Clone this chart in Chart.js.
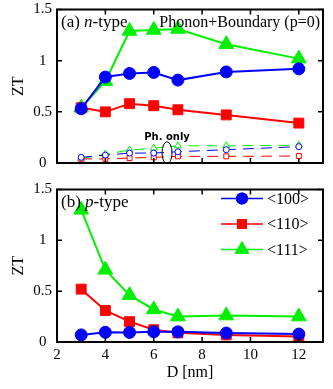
<!DOCTYPE html>
<html>
<head>
<meta charset="utf-8">
<script src="https://cdn.jsdelivr.net/npm/chart.js@4"></script>
<style>
  html, body { margin: 0; padding: 0; background: #fff; }
  #wrap { position: relative; width: 333px; height: 389px; }
  canvas { position: absolute; left: 0; }
  #cA { top: 0; }
  #cB { top: 180px; }
</style>
</head>
<body>
<div id="wrap">
  <canvas id="cA" width="333" height="178"></canvas>
  <canvas id="cB" width="333" height="209"></canvas>
</div>
<script>
// Nanowire diameter D [nm]
const diameters = [3, 4, 5, 6, 7, 9, 12];
const orientations = ['<100>', '<110>', '<111>'];
const colors = ['#0000ff', '#ff0000', '#00f000'];
const yTicks = [0, 0.5, 1, 1.5];
const xTicks = [2, 4, 6, 8, 10, 12];

// (a) n-type, phonon + boundary scattering
const nType100 = [0.53, 0.84, 0.875, 0.885, 0.81, 0.89, 0.92];
const nType110 = [0.54, 0.50, 0.58, 0.56, 0.52, 0.47, 0.39];
const nType111 = [0.54, 0.80, 1.29, 1.30, 1.31, 1.16, 1.02];
// (a) n-type, phonon scattering only
const nPh100 = [0.055, 0.077, 0.097, 0.097, 0.11, 0.13, 0.16];
const nPh110 = [0.04, 0.04, 0.048, 0.055, 0.065, 0.065, 0.068];
const nPh111 = [0.045, 0.087, 0.126, 0.145, 0.168, 0.168, 0.174];
// (b) p-type
const pType100 = [0.07, 0.095, 0.094, 0.10, 0.10, 0.088, 0.078];
const pType110 = [0.52, 0.31, 0.20, 0.12, 0.09, 0.07, 0.055];
const pType111 = [1.30, 0.71, 0.46, 0.32, 0.25, 0.26, 0.25];

const SERIF = '"Liberation Serif", "DejaVu Serif", serif';
const pts = (ys) => diameters.map((x, i) => ({ x, y: ys[i] }));
const styles = ['circle', 'rect', 'triangle'];
const radii = [6, 7, 8.5];

function mainSet(i, ys) {
  return {
    label: orientations[i], data: pts(ys),
    borderColor: colors[i], backgroundColor: colors[i],
    borderWidth: 2, pointStyle: styles[i], pointRadius: radii[i],
    pointBorderWidth: 1, pointBorderColor: colors[i], tension: 0
  };
}
function phSet(i, ys) {
  return {
    label: orientations[i] + ' ph', data: pts(ys),
    borderColor: colors[i], backgroundColor: '#ffffff',
    borderWidth: 1, borderDash: [11, 7], pointStyle: styles[i],
    pointRadius: [3, 3.5, 4][i], pointBorderWidth: 1,
    pointBorderColor: colors[i], tension: 0
  };
}

// Frame with inward ticks on all four sides
const framePlugin = {
  id: 'frame',
  afterDatasetsDraw(chart) {
    const { ctx, chartArea: a, scales } = chart;
    ctx.save();
    ctx.strokeStyle = '#000';
    ctx.lineWidth = 1.5;
    const L = 5;
    ctx.beginPath();
    xTicks.forEach(v => {
      const px = scales.x.getPixelForValue(v);
      ctx.moveTo(px, a.bottom); ctx.lineTo(px, a.bottom - L);
      ctx.moveTo(px, a.top); ctx.lineTo(px, a.top + L);
    });
    yTicks.forEach(v => {
      const py = scales.y.getPixelForValue(v);
      ctx.moveTo(a.left, py); ctx.lineTo(a.left + L, py);
      ctx.moveTo(a.right, py); ctx.lineTo(a.right - L, py);
    });
    ctx.stroke();
    ctx.lineWidth = 2;
    ctx.strokeRect(a.left, a.top, a.right - a.left, a.bottom - a.top);
    ctx.restore();
  }
};

// Panel captions drawn from rich text pieces
function drawPieces(ctx, x, y, pieces, size) {
  pieces.forEach(([t, italic]) => {
    ctx.font = (italic ? 'italic ' : '') + size + 'px ' + SERIF;
    ctx.fillText(t, x, y);
    x += ctx.measureText(t).width;
  });
}

const captionA = {
  id: 'captionA',
  afterDatasetsDraw(chart) {
    const { ctx, chartArea: a, scales } = chart;
    ctx.save();
    ctx.fillStyle = '#000';
    ctx.textBaseline = 'alphabetic';
    drawPieces(ctx, a.left + 4, a.top + 17, [['(a) ', false], ['n', true], ['-type', false]], 17);
    ctx.font = '16px ' + SERIF;
    ctx.textAlign = 'right';
    ctx.fillText('Phonon+Boundary (p=0)', a.right - 3, a.top + 17);
    // "Ph. only" marker
    const cx = scales.x.getPixelForValue(6.55);
    const cy = scales.y.getPixelForValue(0.1);
    ctx.lineWidth = 1;
    ctx.strokeStyle = '#000';
    ctx.beginPath();
    ctx.ellipse(cx, cy, 5, 11, 0, 0, Math.PI * 2);
    ctx.stroke();
    ctx.textAlign = 'center';
    ctx.font = 'bold 10px "DejaVu Sans", sans-serif';
    ctx.fillText('Ph. only', cx, cy - 13);
    ctx.restore();
  }
};

const captionB = {
  id: 'captionB',
  afterDatasetsDraw(chart) {
    const { ctx, chartArea: a } = chart;
    ctx.save();
    ctx.fillStyle = '#000';
    drawPieces(ctx, a.left + 4, a.top + 17, [['(b) ', false], ['p', true], ['-type', false]], 17);
    // legend
    const x0 = 221, x1 = 263;
    chart.data.datasets.slice(0, 3).forEach((ds, i) => {
      const y = a.top + 9 + i * 25.5;
      ctx.strokeStyle = ds.borderColor;
      ctx.lineWidth = 1.5;
      ctx.beginPath(); ctx.moveTo(x0, y); ctx.lineTo(x1, y); ctx.stroke();
      ctx.fillStyle = ds.backgroundColor;
      Chart.helpers.drawPoint(ctx, { pointStyle: ds.pointStyle, radius: ds.pointRadius, borderWidth: 0 }, (x0 + x1) / 2, y);
      ctx.fill();
      ctx.fillStyle = '#000';
      ctx.font = '16px ' + SERIF;
      ctx.textBaseline = 'middle';
      ctx.fillText(ds.label, x1 + 4, y + 1);
    });
    ctx.restore();
  }
};

function makeOptions(showX, canvasH, plotBottom) {
  return {
    responsive: false, animation: false,
    layout: { padding: { top: 8, right: 10, left: 0, bottom: 0 } },
    plugins: { legend: { display: false }, tooltip: { enabled: false } },
    scales: {
      x: {
        type: 'linear', min: 2, max: 13,
        grid: { display: false, drawTicks: false }, border: { display: false },
        afterBuildTicks: (s) => { s.ticks = xTicks.map(v => ({ value: v })); },
        ticks: { display: showX, padding: 4, color: '#000', font: { family: SERIF, size: 15 } },
        title: { display: showX, text: 'D [nm]', color: '#000', font: { family: SERIF, size: 16 }, padding: { top: 0, bottom: 7 } },
        afterFit: (s) => {
          s.height = canvasH - plotBottom;
          s.paddingLeft = 0; s.paddingRight = 0;
        }
      },
      y: {
        type: 'linear', min: 0, max: 1.5,
        grid: { display: false, drawTicks: false }, border: { display: false },
        afterBuildTicks: (s) => { s.ticks = yTicks.map(v => ({ value: v })); },
        ticks: { padding: 5, crossAlign: 'center', color: '#000', font: { family: SERIF, size: 15 }, callback: (v) => String(v) },
        title: { display: true, text: 'ZT', color: '#000', font: { family: SERIF, size: 16 }, padding: { top: 9, bottom: 0 } },
        afterFit: (s) => {
          s.width = 57;
          s.paddingTop = 0; s.paddingBottom = 0;
        }
      }
    }
  };
}

new Chart(document.getElementById('cA'), {
  type: 'line',
  data: {
    datasets: [
      phSet(0, nPh100), phSet(1, nPh110), phSet(2, nPh111),
      mainSet(0, nType100), mainSet(1, nType110), mainSet(2, nType111)
    ]
  },
  options: makeOptions(false, 178, 163),
  plugins: [framePlugin, captionA]
});

new Chart(document.getElementById('cB'), {
  type: 'line',
  data: {
    datasets: [mainSet(0, pType100), mainSet(1, pType110), mainSet(2, pType111)]
  },
  options: makeOptions(true, 209, 162),
  plugins: [framePlugin, captionB]
});
</script>
</body>
</html>
